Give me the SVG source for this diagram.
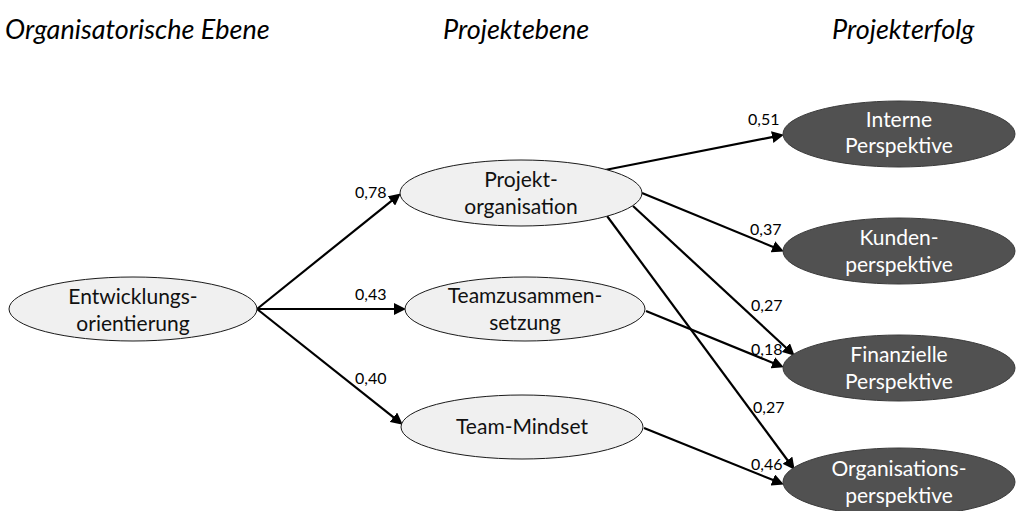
<svg xmlns="http://www.w3.org/2000/svg" width="1016" height="511" viewBox="0 0 1016 511">
  <style>
    .head { font-family: "Lato", "Open Sans", sans-serif; font-style: italic; font-size: 27px; fill: #000; }
    .light ellipse { fill: #F0F0F0; stroke: #1a1a1a; stroke-width: 1; }
    .dark ellipse { fill: #515151; stroke: #3a3a3a; stroke-width: 1; }
    .light text { font-family: "Lato", "Open Sans", sans-serif; font-size: 21px; fill: #111; text-anchor: middle; }
    .dark text { font-family: "Lato", "Open Sans", sans-serif; font-size: 21px; fill: #fff; text-anchor: middle; }
    .edges line { stroke: #000; stroke-width: 2.2; marker-end: url(#arrow); }
    .coef { font-family: "Lato", "Open Sans", sans-serif; font-size: 16px; fill: #000; }
  </style>
  <defs>
    <marker id="arrow" markerUnits="userSpaceOnUse" markerWidth="14" markerHeight="12" refX="1" refY="6" orient="auto">
      <path d="M0,0 L12,6 L0,12 z" fill="#000"/>
    </marker>
  </defs>

  <rect width="1016" height="511" fill="#fff"/>

  <!-- level headings -->
  <text class="head" x="5" y="39">Organisatorische Ebene</text>
  <text class="head" x="443" y="39">Projektebene</text>
  <text class="head" x="832" y="39">Projekterfolg</text>

  <!-- paths with arrowheads -->
  <g id="connectors" class="edges">
    <line x1="257" y1="309" x2="392.2" y2="200.3"/>
    <line x1="257" y1="309" x2="395" y2="309"/>
    <line x1="257" y1="309" x2="394.2" y2="417.8"/>
    <line x1="605" y1="170" x2="773.2" y2="136.9"/>
    <line x1="642" y1="193" x2="773.8" y2="247.2"/>
    <line x1="633" y1="206" x2="786.6" y2="348.2"/>
    <line x1="607" y1="216" x2="788.1" y2="461"/>
    <line x1="646" y1="311" x2="773.7" y2="363.2"/>
    <line x1="644" y1="428" x2="773.7" y2="480.3"/>
  </g>

  <!-- path coefficients -->
  <g id="coefficients">
    <text class="coef" x="355" y="198">0,78</text>
    <text class="coef" x="355" y="300">0,43</text>
    <text class="coef" x="355" y="384">0,40</text>
    <text class="coef" x="748" y="125">0,51</text>
    <text class="coef" x="750" y="235">0,37</text>
    <text class="coef" x="751" y="311">0,27</text>
    <text class="coef" x="751" y="355">0,18</text>
    <text class="coef" x="753" y="413">0,27</text>
    <text class="coef" x="751" y="470">0,46</text>
  </g>

  <!-- organisational level -->
  <g id="entwicklungsorientierung" class="light">
    <ellipse cx="133" cy="309" rx="124" ry="32"/>
    <text x="133" y="304">Entwicklungs-</text>
    <text x="133" y="331">orientierung</text>
  </g>

  <!-- project level -->
  <g id="projektorganisation" class="light">
    <ellipse cx="521" cy="193" rx="121" ry="33"/>
    <text x="521" y="187">Projekt-</text>
    <text x="521" y="214">organisation</text>
  </g>
  <g id="teamzusammensetzung" class="light">
    <ellipse cx="525" cy="309" rx="120" ry="32"/>
    <text x="525" y="303">Teamzusammen-</text>
    <text x="525" y="330">setzung</text>
  </g>
  <g id="team-mindset" class="light">
    <ellipse cx="522" cy="427" rx="121" ry="32"/>
    <text x="522" y="434">Team-Mindset</text>
  </g>

  <!-- project success -->
  <g id="interne-perspektive" class="dark">
    <ellipse cx="899" cy="134" rx="116" ry="33"/>
    <text x="899" y="127">Interne</text>
    <text x="899" y="153">Perspektive</text>
  </g>
  <g id="kundenperspektive" class="dark">
    <ellipse cx="899" cy="251" rx="116" ry="33"/>
    <text x="899" y="245">Kunden-</text>
    <text x="899" y="272">perspektive</text>
  </g>
  <g id="finanzielle-perspektive" class="dark">
    <ellipse cx="899" cy="368" rx="116" ry="33"/>
    <text x="899" y="362">Finanzielle</text>
    <text x="899" y="389">Perspektive</text>
  </g>
  <g id="organisationsperspektive" class="dark">
    <ellipse cx="899" cy="482" rx="116" ry="34"/>
    <text x="899" y="476">Organisations-</text>
    <text x="899" y="503">perspektive</text>
  </g>
</svg>
